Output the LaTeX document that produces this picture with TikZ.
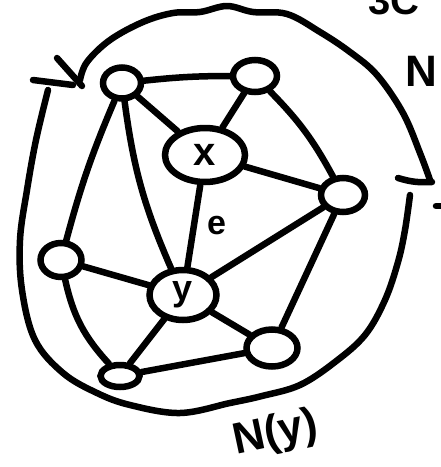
\documentclass[tikz,border=0pt]{standalone}
\usepackage{fontspec}
\setmainfont{Liberation Sans}
\usetikzlibrary{shapes.geometric}
\begin{document}
\begin{tikzpicture}[x=1pt,y=-1pt,
  ink/.style={line width=6.5pt, line cap=round, line join=round},
  vtx/.style={ellipse, draw, line width=6.5pt, inner sep=0pt},
  lbl/.style={inner sep=0pt}]
\useasboundingbox (0,0) rectangle (441,467);
% vertices
\node[vtx, minimum width=38pt, minimum height=31pt] (tl) at (122,83) {};
\node[vtx, minimum width=44pt, minimum height=32pt] (tr) at (255,76) {};
\node[vtx, minimum width=80pt, minimum height=54pt, font=\fontsize{40}{40}\selectfont\bfseries] (x) at (205,155) {x};
\node[vtx, minimum width=44pt, minimum height=34pt] (r) at (343,195) {};
\node[vtx, minimum width=41pt, minimum height=34pt] (l) at (61,260) {};
\node[vtx, minimum width=67pt, minimum height=50pt, font=\fontsize{36}{36}\selectfont\bfseries] (y) at (183,295) {y};
\node[vtx, minimum width=51pt, minimum height=37pt] (br) at (272,348) {};
\node[vtx, minimum width=39pt, minimum height=22pt] (bl) at (120,376) {};
% edges
\draw[ink] (tl) to[bend left=3] (tr);
\draw[ink] (tl) -- (x);
\draw[ink] (tr) -- (x);
\draw[ink] (tr) to[bend left=8] (r);
\draw[ink] (x) -- (r);
\draw[ink] (x) -- node[lbl, right=10pt, font=\fontsize{34}{34}\selectfont\bfseries] (e) {e} (y);
\draw[ink] (tl) to[bend right=8] (y);
\draw[ink] (tl) to[bend right=4] (l);
\draw[ink] (l) -- (y);
\draw[ink] (l) to[bend right=15] (bl);
\draw[ink] (y) -- (bl);
\draw[ink] (y) -- (br);
\draw[ink] (bl) -- (br);
\draw[ink] (r) -- (br);
\draw[ink] (r) -- (y);
% outer loop N(y)
\coordinate (ua) at (80,80);
\coordinate (ub) at (430,180);
\draw[ink] plot[smooth, tension=0.6] coordinates {(ua) (87,62) (110,40) (143,22) (173,13) (200,12) (227,6) (253,12) (287,14) (320,32) (350,52) (377,75) (403,113) (420,153) (ub)};
\draw[ink] (398,178) to[bend right=10] (432,182);
\coordinate (la) at (410,195);
\coordinate (lb) at (48,90);
\draw[ink] plot[smooth, tension=0.6] coordinates {(la) (405,230) (398,262) (385,300) (365,335) (335,362) (300,385) (262,396) (230,403) (180,413) (130,405) (97,393) (63,373) (35,340) (22,290) (20,240) (27,190) (36,140) (lb)};
\draw[ink] (33,80) -- (73,85);
\draw[ink] (57,58) -- (82,86);
% partial mark at the right edge
\draw[ink] (436,206) -- (444,206);
% labels
\node[lbl, font=\fontsize{44}{44}\selectfont\bfseries] (nlab) at (421,71) {N};
\node[lbl, font=\fontsize{40}{40}\selectfont\bfseries, anchor=base west] (top) at (368,14) {3C};
\node[lbl, font=\fontsize{44}{44}\selectfont\bfseries, rotate=12] (ny) at (276,434) {N(y)};
\end{tikzpicture}
\end{document}
